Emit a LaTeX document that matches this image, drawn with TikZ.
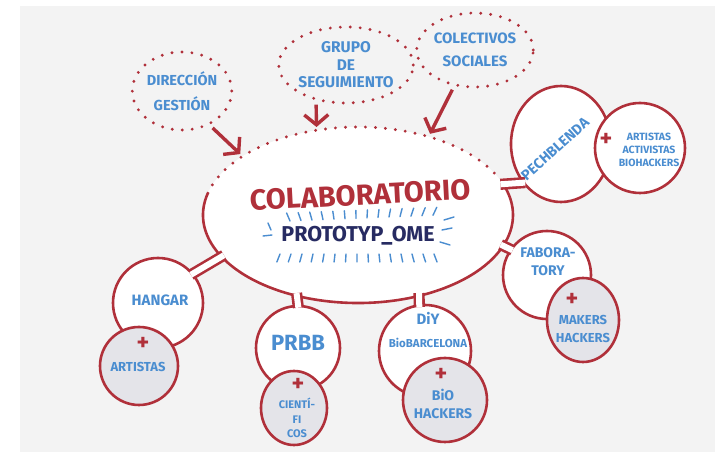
\documentclass[tikz,border=0pt]{standalone}
\usepackage{fontspec}
\setmainfont{Fira Sans}
\usepackage{tikz}
\usetikzlibrary{arrows.meta,shapes.geometric}
\definecolor{redc}{HTML}{B0303A}
\definecolor{bluet}{HTML}{4A8DD0}
\definecolor{navyt}{HTML}{272B62}
\definecolor{paper}{HTML}{F3F3F3}
\definecolor{subfill}{HTML}{E4E4E9}
\newcommand{\fsz}[2]{\fontsize{#1}{#2}\selectfont\bfseries}
\tikzstyle{bub_n} = [circle, draw=redc, fill=white, line width=2.6pt, inner sep=0pt]
\tikzstyle{bub_p} = [circle, draw=redc, fill=subfill, line width=2.6pt, inner sep=0pt]
\tikzstyle{dot_r} = [draw=redc, line width=3.2pt, line cap=round, dash pattern=on 0pt off 10pt]
\tikzstyle{cld_d} = [ellipse, dot_r, inner sep=0pt, text=bluet, align=center]
\tikzstyle{line_r} = [draw=redc, line width=2.6pt]
\tikzstyle{neck_t} = [draw=redc, line width=2.6pt, double=white, double distance=6pt, shorten <=-3pt, shorten >=-3pt]
\tikzstyle{arr_r} = [->, draw=redc, line width=3.4pt, shorten <=4pt, shorten >=3pt]
\tikzstyle{txt_b} = [text=bluet, inner sep=0pt, align=center]
\tikzstyle{plus_r} = [text=redc, inner sep=0pt, font=\fsz{24}{24}]
\tikzstyle{tick_b} = [draw=bluet, line width=1.4pt, line cap=round]

\begin{document}
\begin{tikzpicture}[x=1pt, y=1pt, >={Straight Barb[length=10pt,width=24pt]}]
\useasboundingbox (0,0) rectangle (715,452);
\fill[white] (0,0) rectangle (715,452);
\fill[paper] (20,0) rectangle (715,446);

\node[ellipse, fill=white, inner sep=0pt, minimum width=310pt, minimum height=176pt] (colab) at (358,237) {};
\draw[line_r] ([shift={(165:155pt and 88pt)}]colab.center) arc[start angle=165, end angle=380, x radius=155pt, y radius=88pt];
\draw[dot_r] ([shift={(160:155pt and 88pt)}]colab.center) arc[start angle=160, end angle=25, x radius=155pt, y radius=88pt];

\node[cld_d, minimum width=98pt, minimum height=78pt, font=\fsz{14.5}{25}] (direccion) at (182,361) {DIRECCIÓN\\GESTIÓN};
\node[cld_d, minimum width=126pt, minimum height=76pt, font=\fsz{15.5}{17.5}] (grupo) at (346,387) {GRUPO\\DE\\SEGUIMIENTO};
\node[cld_d, minimum width=104pt, minimum height=74pt, font=\fsz{15}{23}] (colectivos) at (475,402) {COLECTIVOS\\SOCIALES};

\draw[arr_r] (direccion.-51) -- (colab.153);
\draw[arr_r] (grupo.-130) -- (colab.116);
\draw[arr_r] (colectivos.-120) -- (colab.48);

\node[bub_n, minimum size=90pt] (hangar) at (158,149) {};
\node[bub_n, minimum size=84pt] (prbb) at (298,104) {};
\node[bub_n, minimum size=92pt] (diy) at (425,101) {};
\node[bub_n, minimum size=88pt] (fabora) at (547,177) {};
\node[bub_n, ellipse, minimum width=100pt, minimum height=116pt] (pech) at (561,308) {};

\draw[neck_t] (colab.197) -- (hangar.40);
\draw[neck_t] (colab.-127) -- (prbb.90);
\draw[neck_t] (colab.-53) -- (diy.97);
\draw[neck_t] (colab.-12) -- (fabora.145);
\draw[neck_t] (colab.12) -- (pech.225);

\node[bub_p, minimum size=78pt] (artistas) at (139,86) {};
\node[bub_p, ellipse, minimum width=66pt, minimum height=74pt] (cientificos) at (294,44) {};
\node[bub_p, minimum size=84pt] (biohackers) at (445,52) {};
\node[bub_p, ellipse, minimum width=72pt, minimum height=84pt] (makers) at (583,132) {};
\node[bub_n, minimum size=90pt] (activistas) at (640,304) {};

\node[text=redc, inner sep=0pt, font=\fsz{29}{29}, rotate=3] (t_colab) at (360,257) {COLABORATORIO};
\node[text=navyt, inner sep=0pt, font=\fsz{21.5}{21.5}] (t_proto) at (358,216) {PROTOTYP\_OME};
\foreach \x in {290,301,...,434}
  \draw[tick_b] (\x,{231+(\x-290)*0.04}) -- ++({(\x-358)*0.05},8);
\foreach \x in {280,291,...,434}
  \draw[tick_b] (\x,198) -- ++({(\x-358)*0.04},-8);
\draw[tick_b] (263,216) -- (272,217);
\draw[tick_b] (268,229) -- (271,222);
\draw[tick_b] (442,222) -- (452,224);
\draw[tick_b] (444,232) -- (454,235);
\draw[tick_b] (440,210) -- (450,207);

\node[txt_b, font=\fsz{15}{15}] (t_hangar) at (160,152) {HANGAR};
\node[plus_r] (p_artistas) at (143,108) {+};
\node[txt_b, font=\fsz{13}{13}] (t_artistas) at (138,85) {ARTISTAS};
\node[txt_b, font=\fsz{22}{22}] (t_prbb) at (298,109) {PRBB};
\node[plus_r] (p_cientificos) at (298,67) {+};
\node[txt_b, font=\fsz{11}{14.5}] (t_cientificos) at (297,34) {CIENTÍ-\\FI\\COS};
\node[txt_b, font=\fsz{15}{15}] (t_diy) at (428,134) {DiY};
\node[txt_b, font=\fsz{11.5}{11.5}] (t_bcn) at (428,109) {BioBARCELONA};
\node[plus_r] (p_bio) at (441,77) {+};
\node[txt_b, font=\fsz{14}{18}] (t_bio) at (443,48) {BiO\\HACKERS};
\node[txt_b, font=\fsz{14}{18}] (t_fabora) at (548,190) {FABORA-\\TORY};
\node[plus_r] (p_makers) at (572,152) {+};
\node[txt_b, font=\fsz{13}{18}] (t_makers) at (583,123) {MAKERS\\HACKERS};
\node[txt_b, font=\fsz{14.5}{14.5}, rotate=42] (t_pech) at (555,303) {PECHBLENDA};
\node[plus_r] (p_activ) at (606,312) {+};
\node[txt_b, font=\fsz{10.5}{13}] (t_activ) at (649,302) {ARTISTAS\\ACTIVISTAS\\BIOHACKERS};
\end{tikzpicture}
\end{document}
